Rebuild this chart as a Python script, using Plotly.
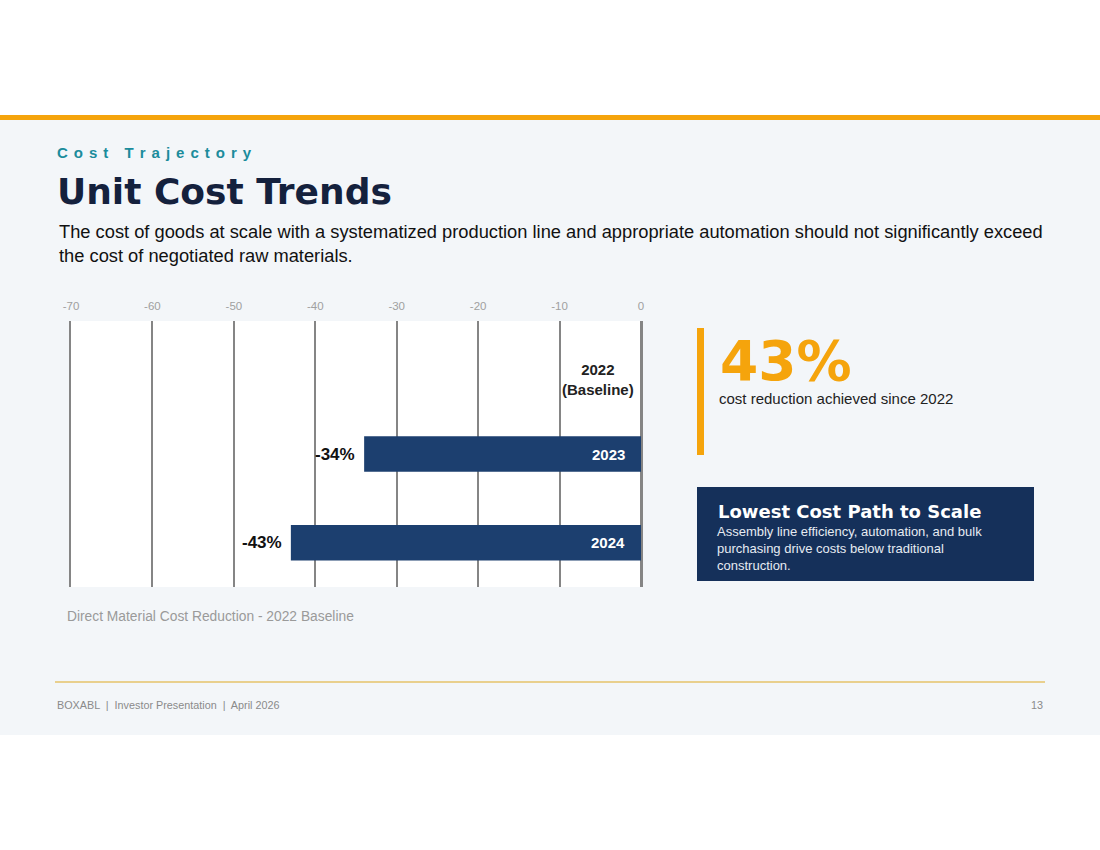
import plotly.graph_objects as go

W, H = 1100, 850

# chart data
years = ["2022", "2023", "2024"]
year_labels = ["2022<br>(Baseline)", "2023", "2024"]
reductions = [0, -34, -43]
pct_labels = ["", "-34%", "-43%"]
x_ticks = [-70, -60, -50, -40, -30, -20, -10, 0]
x_ticktext = ["-70", "-60", "-50", "-40", "-30", "-20", "-10", "0"]

NAVY = "#1c3f6f"
ORANGE = "#f5a40c"
GRID = "#858585"
FONT = "Liberation Sans, Arial, sans-serif"
HEAVY = "DejaVu Sans, Arial Black, sans-serif"


def px(x):
    return x / W


def py(y):
    return 1 - y / H


fig = go.Figure()

fig.add_trace(go.Bar(
    x=reductions, y=years, orientation="h", width=0.4,
    marker=dict(color=NAVY, line=dict(width=0)),
    hoverinfo="skip", showlegend=False,
))

# labels on the bars (category index used as y so autorange is not disturbed)
for i, (lab, val, pct) in enumerate(zip(year_labels, reductions, pct_labels)):
    on_bar = val < 0
    fig.add_annotation(
        x=0, y=i, xref="x", yref="y", text="<b>%s</b>" % lab,
        showarrow=False, xanchor="right", align="center",
        xshift=-14 if on_bar else -5, yshift=0 if on_bar else -14,
        font=dict(family=FONT, size=15, color="white" if on_bar else "#222222"),
    )
    if pct:
        fig.add_annotation(
            x=val, y=i, xref="x", yref="y", text="<b>%s</b>" % pct,
            showarrow=False, xanchor="right", xshift=-7,
            font=dict(family=FONT, size=17, color="#111111"),
        )

shapes = [
    # slide background
    dict(type="rect", xref="paper", yref="paper", x0=0, x1=1, y0=py(735), y1=py(117),
         fillcolor="#f3f6f9", line=dict(width=0), layer="below"),
    # white plot area
    dict(type="rect", xref="x domain", yref="y domain", x0=0, x1=1, y0=0, y1=1,
         fillcolor="white", line=dict(width=0), layer="below"),
    # top orange rule
    dict(type="rect", xref="paper", yref="paper", x0=0, x1=1, y0=py(120), y1=py(115),
         fillcolor=ORANGE, line=dict(width=0), layer="below"),
    # orange accent bar
    dict(type="rect", xref="paper", yref="paper", x0=px(697), x1=px(704), y0=py(455), y1=py(328),
         fillcolor=ORANGE, line=dict(width=0), layer="below"),
    # dark callout box
    dict(type="rect", xref="paper", yref="paper", x0=px(697), x1=px(1034), y0=py(581), y1=py(487),
         fillcolor="#15305a", line=dict(width=0), layer="below"),
    # footer rule
    dict(type="line", xref="paper", yref="paper", x0=px(55), x1=px(1045), y0=py(682), y1=py(682),
         line=dict(color="#e9d08e", width=2), layer="below"),
]


def txt(x, y, text, size, color, xanchor="left", yanchor="middle", align="left", family=FONT):
    fig.add_annotation(
        x=px(x), y=py(y), xref="paper", yref="paper", text=text, showarrow=False,
        xanchor=xanchor, yanchor=yanchor, align=align,
        font=dict(family=family, size=size, color=color),
    )


# letter-spaced kicker
gap = "\u2009\u2009"
kicker = (gap + " " + gap).join(gap.join(w) for w in "Cost Trajectory".split(" "))
txt(55, 152, "<b>%s</b>" % kicker, 15, "#1b8c9c")
txt(55, 192, "<b>Unit Cost Trends</b>", 36, "#14213d", family=HEAVY)
txt(57, 243, "The cost of goods at scale with a systematized production line and appropriate automation should not significantly exceed"
    "<br>the cost of negotiated raw materials.", 18.3, "#111111")
txt(65, 616, "Direct Material Cost Reduction - 2022 Baseline", 13.8, "#9a9a9a")

txt(718, 361, "<b>43%</b>", 55, ORANGE, family=HEAVY)
txt(717, 398, "cost reduction achieved since 2022", 15, "#222222")
txt(716, 511, "<b>Lowest Cost Path to Scale</b>", 18, "white", family=HEAVY)
txt(715, 548, "Assembly line efficiency, automation, and bulk<br>purchasing drive costs below traditional<br>construction.",
    13, "#e6ebf2")

txt(55, 705, "BOXABL  |  Investor Presentation  |  April 2026", 10.8, "#8a8a8a")
txt(1045, 705, "13", 10.8, "#8a8a8a", xanchor="right")

fig.update_layout(
    template="none",
    width=W, height=H,
    margin=dict(l=0, r=0, t=0, b=0, pad=0),
    paper_bgcolor="white",
    plot_bgcolor="white",
    shapes=shapes,
    showlegend=False,
    xaxis=dict(
        domain=[px(71), px(641)], range=[-70, 0], side="top", automargin=False,
        tickmode="array", tickvals=x_ticks, ticktext=x_ticktext,
        showgrid=True, gridcolor=GRID, gridwidth=2,
        zeroline=True, zerolinecolor=GRID, zerolinewidth=2,
        showline=False, ticks="", ticklabelstandoff=8,
        tickfont=dict(family=FONT, size=11.5, color="#a0a0a0"),
    ),
    yaxis=dict(
        type="category", categoryorder="array", categoryarray=years,
        range=[len(years) - 0.5, -0.5],
        domain=[py(587), py(321)], automargin=False,
        showticklabels=False, showgrid=False, zeroline=False, ticks="",
        showline=True, mirror=True, linecolor=GRID, linewidth=2,
    ),
)

fig.write_html("out.html", config={"displayModeBar": False},
               post_script="document.body.style.margin = '0px';")
